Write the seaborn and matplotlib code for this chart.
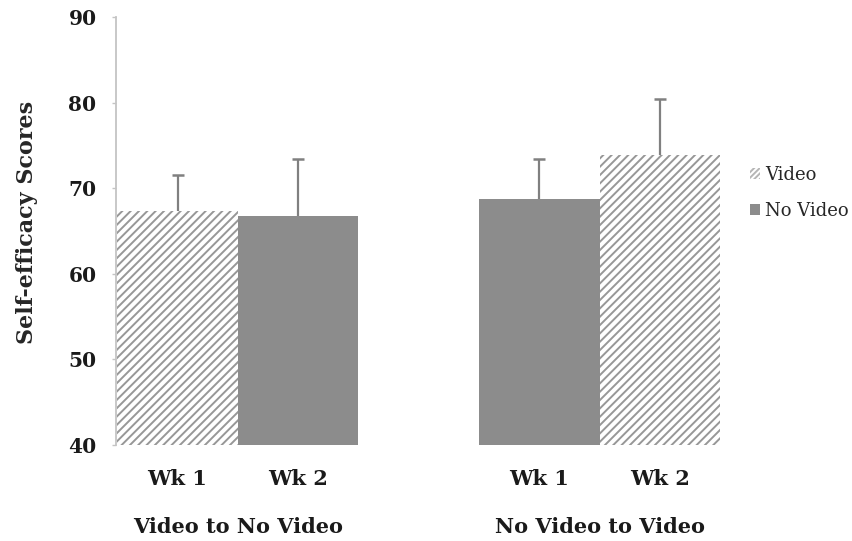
import matplotlib
matplotlib.use("Agg")
import matplotlib.patches as mpatches
import matplotlib.transforms as mtransforms
import pandas as pd
import seaborn as sns
from matplotlib import pyplot as plt

# values
groups = ["Video to No Video", "Video to No Video", "No Video to Video", "No Video to Video"]
weeks = ["Wk 1", "Wk 2", "Wk 1", "Wk 2"]
conditions = ["Video", "No Video", "No Video", "Video"]
means = [67.3, 66.8, 68.8, 73.9]
upper_err = [4.3, 6.6, 4.6, 6.6]
y_ticks = [40, 50, 60, 70, 80, 90]

SOLID = "#8c8c8c"
HATCH = "#979797"
ERR = "#808080"

df = pd.DataFrame({"group": groups, "week": weeks, "condition": conditions,
                   "score": means, "err": upper_err})
df["slot"] = df["group"] + " | " + df["week"]
order = list(df["slot"][:2]) + ["gap"] + list(df["slot"][2:])

sns.set_style("white")
plt.rcParams["font.family"] = ["DejaVu Serif"]
plt.rcParams["hatch.linewidth"] = 1.4

fig = plt.figure(figsize=(8.52, 5.41), dpi=100)
ax = fig.add_axes([116 / 852, 1 - 445 / 541, 620 / 852, (445 - 17.3) / 541])

palette = {s: (SOLID if c == "No Video" else "white") for s, c in zip(df["slot"], df["condition"])}
sns.barplot(data=df, x="slot", y="score", hue="slot", order=order, palette=palette,
            width=1.0, legend=False, errorbar=None, linewidth=0, ax=ax)

# hatch the Video bars, add one-sided (upper) error bars
bars = [p for p in ax.patches if p.get_height() > 0]
bars.sort(key=lambda p: p.get_x())
for bar, cond, m, e in zip(bars, df["condition"], df["score"], df["err"]):
    if cond == "Video":
        bar.set_facecolor("white")
        bar.set_edgecolor(HATCH)
        bar.set_hatch("////")
    cx = bar.get_x() + bar.get_width() / 2
    ax.errorbar(cx, m, yerr=[[0], [e]], color=ERR, elinewidth=1.6, capsize=0,
                fmt="none", zorder=3)
    ax.plot(cx, m + e, marker="_", markersize=9, markeredgewidth=1.8, color=ERR, zorder=3)

ax.set_ylim(40, 90)
ax.set_yticks(y_ticks)
ax.set_xlim(-0.51, 4.63)
ax.set_xticks([0, 1, 3, 4])
ax.set_xticklabels(weeks)
ax.set_xlabel("")
ax.set_ylabel("Self-efficacy Scores", fontsize=16, fontweight="bold")
ax.yaxis.set_label_coords(-0.126, 0.52)

for s in ["top", "right", "bottom"]:
    ax.spines[s].set_visible(False)
ax.spines["left"].set_color("#c4c4c4")
ax.spines["left"].set_linewidth(1.3)
ax.tick_params(axis="y", length=3, width=1, color="#c4c4c4", pad=11, labelsize=14.5,
               labelcolor="#1a1a1a", left=True)
ax.tick_params(axis="x", length=0, pad=17, labelsize=15, labelcolor="#1a1a1a")
for lbl in ax.get_xticklabels() + ax.get_yticklabels():
    lbl.set_fontweight("bold")

# group captions under each pair of bars
trans = mtransforms.blended_transform_factory(ax.transData, ax.transAxes)
for xpos, name in [(0.5, groups[0]), (3.5, groups[2])]:
    ax.text(xpos, -0.192, name, transform=trans, ha="center", va="center",
            fontsize=15, fontweight="bold", color="#1a1a1a")

handles = [
    mpatches.Patch(facecolor="white", edgecolor="#b5b5b5", hatch="//////", linewidth=0,
                   label="Video"),
    mpatches.Patch(facecolor=SOLID, linewidth=0, label="No Video"),
]
fig.legend(handles=handles, loc="center left", bbox_to_anchor=(750 / 852, 1 - 193 / 541),
           frameon=False, fontsize=13, handlelength=0.55, handleheight=0.55,
           handletextpad=0.3, labelspacing=1.0, borderpad=0, borderaxespad=0)

fig.savefig("out.png", dpi=100)
